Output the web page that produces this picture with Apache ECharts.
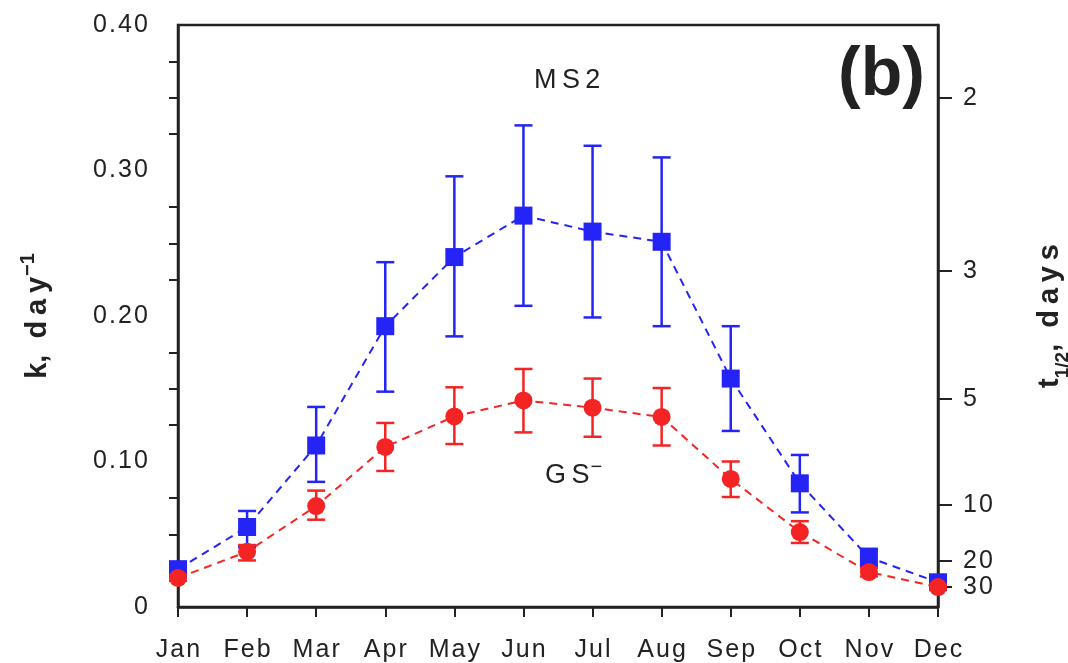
<!DOCTYPE html>
<html>
<head>
<meta charset="utf-8">
<script src="https://cdn.jsdelivr.net/npm/echarts@6/dist/echarts.min.js"></script>
<style>
  html, body { margin: 0; padding: 0; background: #fff; }
  #chart { width: 1068px; height: 663px; }
</style>
</head>
<body>
<div id="chart"></div>
<script>
var months = ['Jan', 'Feb', 'Mar', 'Apr', 'May', 'Jun', 'Jul', 'Aug', 'Sep', 'Oct', 'Nov', 'Dec'];

// MS2 rate constant k (day^-1) and error bar ends
var ms2K  = [0.026, 0.055, 0.111, 0.193, 0.2405, 0.269, 0.258, 0.251, 0.157, 0.085, 0.034, 0.017];
var ms2Lo = [0.023, 0.041, 0.086, 0.148, 0.186, 0.207, 0.199, 0.193, 0.121, 0.065, 0.028, 0.015];
var ms2Hi = [0.029, 0.066, 0.1375, 0.237, 0.296, 0.331, 0.317, 0.309, 0.193, 0.1045, 0.040, 0.019];

// GS- rate constant k and error bar ends
var gsK  = [0.020, 0.038, 0.0694, 0.110, 0.131, 0.142, 0.137, 0.1306, 0.088, 0.0515, 0.024, 0.0137];
var gsLo = [0.018, 0.032, 0.060, 0.0935, 0.112, 0.120, 0.117, 0.111, 0.0756, 0.044, 0.021, 0.012];
var gsHi = [0.022, 0.0426, 0.080, 0.1265, 0.151, 0.1636, 0.157, 0.1505, 0.100, 0.059, 0.027, 0.0155];

// right axis: half-life labels and where they sit on the k scale
var halfLifeLabels = ['2', '3', '5', '10', '20', '30'];
var halfLifeK = [0.3498, 0.231, 0.143, 0.070, 0.0316, 0.0137];

var BLUE = '#2424f6';
var RED = '#f42424';
var AXIS = '#222';
var FONT = '"Liberation Sans", Arial, sans-serif';
var SP = '\u2009';   // thin space
var HS = '\u200A';   // hair space

// the original figure uses loosely spaced lettering
function spaced(s) { return String(s).split('').join(SP); }
function loose(s) { return String(s).split('').join(HS); }

function errData(lo, hi) {
    return lo.map(function (v, i) { return [i, v, hi[i]]; });
}

function errBar(color) {
    return function (params, api) {
        var i = api.value(0);
        var a = api.coord([i, api.value(1)]);
        var b = api.coord([i, api.value(2)]);
        var w = 9;
        var st = { stroke: color, lineWidth: 2.5 };
        return {
            type: 'group',
            children: [
                { type: 'line', shape: { x1: a[0], y1: a[1], x2: b[0], y2: b[1] }, style: st },
                { type: 'line', shape: { x1: a[0] - w, y1: a[1], x2: a[0] + w, y2: a[1] }, style: st },
                { type: 'line', shape: { x1: b[0] - w, y1: b[1], x2: b[0] + w, y2: b[1] }, style: st }
            ]
        };
    };
}

var chart = echarts.init(document.getElementById('chart'));

var nameStyle = { fontSize: 29, fontWeight: 'bold', color: '#222', fontFamily: FONT, lineHeight: 34, verticalAlign: 'bottom' };

var option = {
    animation: false,
    textStyle: { fontFamily: FONT },
    grid: {
        left: 178, right: 130, top: 25, bottom: 56,
        outerBoundsMode: 'none',
        containLabel: false,
        show: true, borderColor: AXIS, borderWidth: 2.5
    },
    title: [
        { text: spaced('MS2'), left: 529, top: 62, textStyle: { fontFamily: FONT, fontSize: 27, fontWeight: 'normal', color: '#222' } },
        {
            text: '{a|' + spaced('GS') + '}{sup|\u2212}', left: 540, top: 452,
            textStyle: {
                fontWeight: 'normal',
                rich: {
                    a: { fontFamily: FONT, fontSize: 27, fontWeight: 'normal', color: '#222', lineHeight: 32, verticalAlign: 'bottom' },
                    sup: { fontFamily: FONT, fontSize: 20, fontWeight: 'normal', color: '#222', lineHeight: 32, verticalAlign: 'top', padding: [0, 0, 0, 1] }
                }
            }
        },
        { text: '(b)', left: 833, top: 37, textStyle: { fontFamily: FONT, fontSize: 68, fontWeight: 'bold', color: '#222' } }
    ],
    xAxis: {
        type: 'category',
        data: months,
        boundaryGap: false,
        axisLine: { lineStyle: { color: AXIS, width: 2.5 } },
        axisTick: { length: 10, lineStyle: { color: AXIS, width: 2 } },
        axisLabel: { interval: 0, hideOverlap: false, margin: 31, fontSize: 25, color: '#222', fontFamily: FONT, formatter: loose },
        splitLine: { show: false }
    },
    yAxis: [
        {
            type: 'value',
            min: 0, max: 0.4, interval: 0.1,
            name: '{a|k,  ' + spaced('day') + '}{sup|\u22121}',
            nameLocation: 'middle',
            nameGap: 126,
            nameTextStyle: {
                rich: {
                    a: nameStyle,
                    sup: { fontSize: 20, fontWeight: 'bold', color: '#222', fontFamily: FONT, lineHeight: 34, verticalAlign: 'top', padding: [0, 0, 0, 1] }
                }
            },
            axisLine: { show: true, lineStyle: { color: AXIS, width: 2.5 } },
            axisTick: { length: 15, lineStyle: { color: AXIS, width: 2 } },
            minorTick: { show: true, splitNumber: 4, length: 9, lineStyle: { color: AXIS, width: 2 } },
            axisLabel: {
                margin: 30, fontSize: 25, color: '#222', fontFamily: FONT,
                formatter: function (v) { return v === 0 ? '0' : loose(v.toFixed(2)); }
            },
            splitLine: { show: false }
        },
        {
            type: 'value',
            position: 'right',
            min: 0, max: 0.4,
            name: '{t|t}{s|1/2}{t|,  ' + spaced('days') + '}',
            nameLocation: 'middle',
            nameGap: 92,
            nameRotate: 90,
            nameTextStyle: {
                rich: {
                    t: nameStyle,
                    s: { fontSize: 19, fontWeight: 'bold', color: '#222', fontFamily: FONT, lineHeight: 34, verticalAlign: 'bottom', padding: [0, 0, -8, 0] }
                }
            },
            axisLine: { show: true, lineStyle: { color: AXIS, width: 2.5 } },
            axisTick: { show: true, length: 14, customValues: halfLifeK, lineStyle: { color: AXIS, width: 2 } },
            axisLabel: {
                margin: 25, fontSize: 25, color: '#222', fontFamily: FONT,
                customValues: halfLifeK,
                formatter: function (v) {
                    var best = 0;
                    for (var i = 1; i < halfLifeK.length; i++) {
                        if (Math.abs(halfLifeK[i] - v) < Math.abs(halfLifeK[best] - v)) best = i;
                    }
                    return loose(halfLifeLabels[best]);
                }
            },
            splitLine: { show: false }
        }
    ],
    series: [
        {
            name: 'MS2 err', type: 'custom', renderItem: errBar(BLUE),
            data: errData(ms2Lo, ms2Hi), encode: { x: 0, y: [1, 2] }, z: 2
        },
        {
            name: 'MS2', type: 'line', data: ms2K,
            symbol: 'rect', symbolSize: 18,
            itemStyle: { color: BLUE },
            lineStyle: { color: BLUE, width: 2, type: [8, 6] }, z: 3
        },
        {
            name: 'GS err', type: 'custom', renderItem: errBar(RED),
            data: errData(gsLo, gsHi), encode: { x: 0, y: [1, 2] }, z: 4
        },
        {
            name: 'GS-', type: 'line', data: gsK,
            symbol: 'circle', symbolSize: 18,
            itemStyle: { color: RED },
            lineStyle: { color: RED, width: 2, type: [8, 6] }, z: 5
        }
    ]
};

chart.setOption(option);
</script>
</body>
</html>
